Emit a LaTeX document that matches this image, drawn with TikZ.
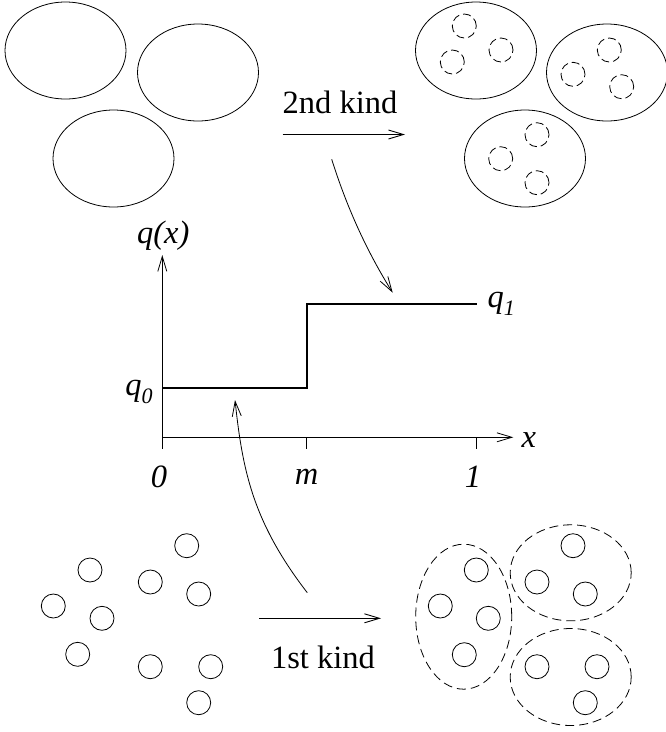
\documentclass[tikz,border=0pt]{standalone}
\usepackage{fontspec}
\setmainfont{Liberation Serif}
\usetikzlibrary{shapes.geometric,arrows.meta}
\newcommand\mysub[1]{\raisebox{-8pt}{\fontsize{22}{22}\selectfont\itshape #1}}
\begin{document}
\begin{tikzpicture}[x=1pt,y=-1pt,
  thin/.style={line width=0.8pt},
  bigell/.style={draw,ellipse,inner sep=0pt,minimum width=121pt,minimum height=97pt,line width=0.8pt},
  dashell/.style={draw,ellipse,inner sep=0pt,line width=0.8pt,dash pattern=on 9pt off 5pt},
  dcirc/.style={draw,circle,inner sep=0pt,minimum size=24pt,line width=0.8pt,dash pattern=on 8pt off 4pt},
  scirc/.style={draw,circle,inner sep=0pt,minimum size=24pt,line width=0.8pt},
  barb/.style={-{Straight Barb[length=15pt,width=9pt,line width=0.8pt]},line width=0.8pt},
  thickbarb/.style={-{Straight Barb[length=15pt,width=9pt,line width=0.9pt]},line width=1.5pt},
  lbl/.style={font=\fontsize{32.5}{34}\selectfont},
  ilbl/.style={font=\fontsize{32.5}{34}\selectfont\itshape},
  stepline/.style={line width=1.8pt}
]
\useasboundingbox (0,0) rectangle (665,732);
% top left ellipses
\node[bigell] (e1) at (65.5,50.5) {};
\node[bigell] (e2) at (198,72.5) {};
\node[bigell] (e3) at (113.5,158.5) {};
% top right ellipses
\node[bigell] (f1) at (476,50.5) {};
\node[bigell] (f2) at (607,72.5) {};
\node[bigell] (f3) at (525,158.5) {};
\node[dcirc] (f1a) at (464.3,26) {};
\node[dcirc] (f1b) at (501,50) {};
\node[dcirc] (f1c) at (452.3,62) {};
\node[dcirc] (f2a) at (609.3,50) {};
\node[dcirc] (f2b) at (573,74.3) {};
\node[dcirc] (f2c) at (621.7,86.7) {};
\node[dcirc] (f3a) at (537,134.7) {};
\node[dcirc] (f3b) at (500.7,158.7) {};
\node[dcirc] (f3c) at (537,182.7) {};
% 2nd kind arrow
\coordinate (k2a) at (282.7,134.5);
\coordinate (k2b) at (405,134.5);
\draw[thickbarb] (k2a) -- (k2b);
\node[lbl] (k2t) at (340,102) {2nd kind};
% bottom-left circles
\node[scirc] (c1) at (186.7,545.7) {};
\node[scirc] (c2) at (90,570) {};
\node[scirc] (c3) at (150.3,582) {};
\node[scirc] (c4) at (198.7,594) {};
\node[scirc] (c5) at (53.3,606) {};
\node[scirc] (c6) at (102,618.3) {};
\node[scirc] (c7) at (77.7,654.3) {};
\node[scirc] (c8) at (150.3,666.7) {};
\node[scirc] (c9) at (210.7,666.7) {};
\node[scirc] (c10) at (198.7,702.7) {};
% bottom-right groups
\node[dashell,minimum width=96pt,minimum height=145pt] (g1) at (463.7,616.7) {};
\node[dashell,minimum width=121pt,minimum height=96pt] (g2) at (570.7,572.8) {};
\node[dashell,minimum width=121pt,minimum height=97pt] (g3) at (570.7,677) {};
\node[scirc] (g1a) at (476.3,570) {};
\node[scirc] (g1b) at (440.3,606) {};
\node[scirc] (g1c) at (488.3,618.3) {};
\node[scirc] (g1d) at (464.3,654.7) {};
\node[scirc] (g2a) at (573,545.7) {};
\node[scirc] (g2b) at (537,582) {};
\node[scirc] (g2c) at (585.3,594) {};
\node[scirc] (g3a) at (537,666.7) {};
\node[scirc] (g3b) at (597,666.7) {};
\node[scirc] (g3c) at (585.3,702.7) {};
% 1st kind arrow
\coordinate (k1a) at (259.3,618.3);
\coordinate (k1b) at (381,618.3);
\draw[thickbarb] (k1a) -- (k1b);
\node[lbl] (k1t) at (323,657) {1st kind};
% axes
\coordinate (O) at (162.3,437.3);
\coordinate (Ytop) at (162.3,255);
\coordinate (Xend) at (513.3,437.3);
\draw[barb] (O) -- (Ytop);
\draw[barb] (O) -- (Xend);
\coordinate (tm) at (306.7,437.3);
\coordinate (t1) at (476.7,437.3);
\draw[thin] (O) -- ++(0,12);
\draw[thin] (tm) -- ++(0,12);
\draw[thin] (t1) -- ++(0,12);
% step function
\coordinate (s0) at (162.3,388.3);
\coordinate (s1) at (307.3,388.3);
\coordinate (s2) at (307.3,304);
\coordinate (s3) at (476.7,304);
\draw[stepline] (s0) -- (s1) -- (s2) -- (s3);
% labels
\node[ilbl] (lqx) at (163.3,236) {q(x)};
\node[ilbl,anchor=west] (lq1) at (484,304) {q\mysub{1}};
\node[ilbl] (lq0) at (139,392) {q\mysub{0}};
\node[ilbl,anchor=west] (lx) at (518,440) {x};
\node[ilbl] (l0) at (159,477) {0};
\node[ilbl] (lm) at (306.7,477) {m};
\node[ilbl] (l1) at (473,477) {1};
% curved arrows
\coordinate (u0) at (331.7,159.3);
\coordinate (u1) at (392.7,292.7);
\draw[barb] (u0) .. controls (346.7,206.8) and (366.2,250.2) .. (u1);
\coordinate (w0) at (307.3,592.7);
\coordinate (w1) at (235,400);
\draw[barb] (w0) .. controls (252.4,521.6) and (242.5,469.6) .. (w1);
\end{tikzpicture}
\end{document}
